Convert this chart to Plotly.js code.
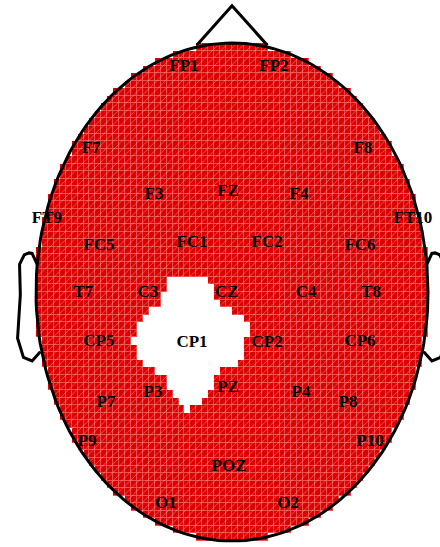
<!DOCTYPE html>
<html><head><meta charset="utf-8">
<script src="https://cdn.plot.ly/plotly-3.0.1.min.js"></script>
<style>html,body{margin:0;padding:0;background:#fff}#chart{width:440px;height:547px}</style>
</head><body><div id="chart"></div>
<script>
// Electrode names, head-coordinate positions (unit head circle) and values
const electrodes = ['FP1','FP2','F7','F8','F3','FZ','F4','FT9','FT10','FC5','FC1','FC2','FC6','T7','C3','CZ','C4','T8','CP5','CP1','CP2','CP6','P7','P3','PZ','P4','P8','P9','P10','POZ','O1','O2'];
const elecX = [-0.245,0.214,-0.719,0.668,-0.398,-0.020,0.342,-0.944,0.923,-0.679,-0.204,0.179,0.653,-0.760,-0.429,-0.026,0.378,0.709,-0.679,-0.204,0.179,0.653,-0.643,-0.403,-0.020,0.352,0.592,-0.740,0.704,-0.015,-0.337,0.286];
const elecY = [0.904,0.904,0.574,0.574,0.390,0.402,0.390,0.293,0.293,0.185,0.197,0.197,0.185,-0.004,-0.004,-0.004,-0.004,-0.004,-0.201,-0.205,-0.205,-0.201,-0.446,-0.406,-0.386,-0.406,-0.446,-0.602,-0.602,-0.703,-0.851,-0.851];
const elecValues = [1,1,1,1,1,1,1,1,1,1,1.22,1,1,1,0.67,0.77,1,1,1.08,-14,0.40,1,1,1.47,1.33,1,1,1,1,6.96,1,1];

// Head outline parts (unit head radius)
const earX = [0.994,1.020,1.036,1.060,1.084,1.080,1.094,1.064,1.020,0.978];
const earY = [0.111,0.155,0.157,0.149,0.111,-0.011,-0.186,-0.263,-0.277,-0.240];
const noseX = [0.18,0,-0.18];
const noseY = [0.9908,1.15,0.9908];

// Interpolation grid (inverse-distance weighting of electrode values)
const N = 66;
const gridX = [], gridY = [];
for (let i = 0; i < N; i++) { gridX.push(-1 + (i + 0.5) * 2 / N); gridY.push(-1 + (i + 0.5) * 2 / N); }
const z = gridY.map(y => gridX.map(x => {
  if (x * x + y * y > 1.0) return null;
  let num = 0, den = 0;
  for (let i = 0; i < electrodes.length; i++) {
    const d2 = (x - elecX[i]) ** 2 + (y - elecY[i]) ** 2;
    const w = 1 / Math.max(d2, 1e-9);
    num += w * elecValues[i]; den += w;
  }
  return num / den;
}));

const red = '#dd0000', light = '#f05050';
const cs = c => [[0, '#ffffff'], [0.5, '#ffffff'], [0.5001, c], [1, c]];
const th = [];
for (let k = 0; k <= 180; k++) th.push(2 * Math.PI * k / 180);
const cx = th.map(Math.cos), cy = th.map(Math.sin);

const data = [
  {type:'heatmap', x:gridX, y:gridY, z:z, colorscale:cs(light), zmin:-1, zmax:1, showscale:false, hoverinfo:'skip'},
  {type:'heatmap', x:gridX, y:gridY, z:z, colorscale:cs(red), zmin:-1, zmax:1, showscale:false, xgap:1, ygap:1, hoverinfo:'skip'},
  {type:'scatter', x:cx, y:cy, mode:'lines', fill:'toself', line:{width:0, color:'rgba(0,0,0,0)'}, fillcolor:'rgba(0,0,0,0)',
   fillpattern:{shape:'/', size:6, solidity:0.15, fgcolor:'rgba(255,255,255,0.35)', bgcolor:'rgba(0,0,0,0)'}, hoverinfo:'skip'},
  {type:'scatter', x:cx, y:cy, mode:'lines', line:{color:'#000', width:3}, hoverinfo:'skip'},
  {type:'scatter', x:noseX, y:noseY, mode:'lines', line:{color:'#000', width:3}, hoverinfo:'skip'},
  {type:'scatter', x:earX.map(v => -v), y:earY, mode:'lines', line:{color:'#000', width:3}, hoverinfo:'skip'},
  {type:'scatter', x:earX, y:earY, mode:'lines', line:{color:'#000', width:3}, hoverinfo:'skip'},
  {type:'scatter', x:elecX, y:elecY, mode:'text', text:electrodes, textposition:'middle center',
   textfont:{family:'Liberation Serif, Times New Roman, serif', size:17, color:'#000', weight:'bold'}, hoverinfo:'skip'}
];
const layout = {width:440, height:547, margin:{l:0, r:0, t:0, b:0}, showlegend:false, paper_bgcolor:'#fff', plot_bgcolor:'#fff',
  xaxis:{range:[-1.1837, 1.0612], visible:false, fixedrange:true},
  yaxis:{range:[-1.0241, 1.1727], visible:false, fixedrange:true}};
Plotly.newPlot('chart', data, layout, {staticPlot:true});
</script></body></html>
